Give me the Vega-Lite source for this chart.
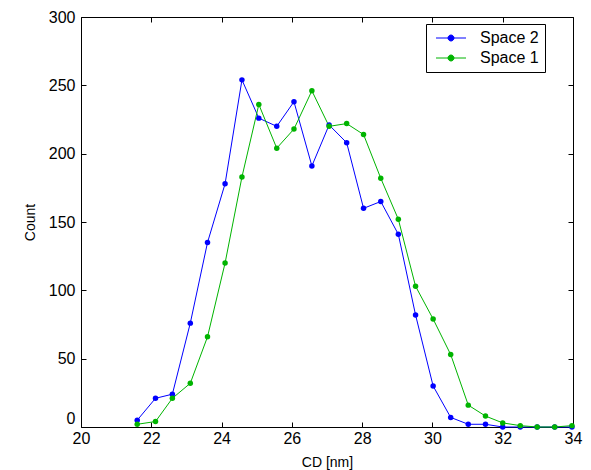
{
  "$schema": "https://vega.github.io/schema/vega-lite/v6.json",
  "width": 492,
  "height": 410,
  "autosize": "none",
  "padding": {"left": 81, "top": 17, "right": 18, "bottom": 43},
  "background": "white",
  "config": {
    "font": "Liberation Sans",
    "view": {"stroke": "#000000", "strokeWidth": 1},
    "axis": {
      "domain": false,
      "grid": false,
      "tickColor": "#000000",
      "tickSize": -5,
      "labelFlush": false,
      "labelColor": "#000000",
      "labelFontSize": 16,
      "labelFont": "Liberation Sans",
      "titleFont": "Liberation Sans",
      "titleFontSize": 14,
      "titleFontWeight": "normal",
      "titleColor": "#000000"
    }
  },
  "data": {
    "values": [
      {"cd": 21.6, "count": 5, "series": "Space 2"},
      {"cd": 22.12, "count": 21, "series": "Space 2"},
      {"cd": 22.6, "count": 24, "series": "Space 2"},
      {"cd": 23.11, "count": 76, "series": "Space 2"},
      {"cd": 23.6, "count": 135, "series": "Space 2"},
      {"cd": 24.1, "count": 178, "series": "Space 2"},
      {"cd": 24.58, "count": 254, "series": "Space 2"},
      {"cd": 25.06, "count": 226, "series": "Space 2"},
      {"cd": 25.57, "count": 220, "series": "Space 2"},
      {"cd": 26.06, "count": 238, "series": "Space 2"},
      {"cd": 26.57, "count": 191, "series": "Space 2"},
      {"cd": 27.06, "count": 221, "series": "Space 2"},
      {"cd": 27.56, "count": 208, "series": "Space 2"},
      {"cd": 28.04, "count": 160, "series": "Space 2"},
      {"cd": 28.53, "count": 165, "series": "Space 2"},
      {"cd": 29.03, "count": 141, "series": "Space 2"},
      {"cd": 29.52, "count": 82, "series": "Space 2"},
      {"cd": 30.02, "count": 30, "series": "Space 2"},
      {"cd": 30.52, "count": 7, "series": "Space 2"},
      {"cd": 31.02, "count": 2, "series": "Space 2"},
      {"cd": 31.51, "count": 2, "series": "Space 2"},
      {"cd": 32.0, "count": 0, "series": "Space 2"},
      {"cd": 32.5, "count": 0, "series": "Space 2"},
      {"cd": 32.98, "count": 0, "series": "Space 2"},
      {"cd": 33.48, "count": 0, "series": "Space 2"},
      {"cd": 33.97, "count": 0, "series": "Space 2"},
      {"cd": 21.6, "count": 2, "series": "Space 1"},
      {"cd": 22.12, "count": 4, "series": "Space 1"},
      {"cd": 22.6, "count": 21, "series": "Space 1"},
      {"cd": 23.11, "count": 32, "series": "Space 1"},
      {"cd": 23.6, "count": 66, "series": "Space 1"},
      {"cd": 24.1, "count": 120, "series": "Space 1"},
      {"cd": 24.58, "count": 183, "series": "Space 1"},
      {"cd": 25.06, "count": 236, "series": "Space 1"},
      {"cd": 25.57, "count": 204, "series": "Space 1"},
      {"cd": 26.06, "count": 218, "series": "Space 1"},
      {"cd": 26.57, "count": 246, "series": "Space 1"},
      {"cd": 27.06, "count": 220, "series": "Space 1"},
      {"cd": 27.56, "count": 222, "series": "Space 1"},
      {"cd": 28.04, "count": 214, "series": "Space 1"},
      {"cd": 28.53, "count": 182, "series": "Space 1"},
      {"cd": 29.03, "count": 152, "series": "Space 1"},
      {"cd": 29.52, "count": 103, "series": "Space 1"},
      {"cd": 30.02, "count": 79, "series": "Space 1"},
      {"cd": 30.52, "count": 53, "series": "Space 1"},
      {"cd": 31.02, "count": 16, "series": "Space 1"},
      {"cd": 31.51, "count": 8, "series": "Space 1"},
      {"cd": 32.0, "count": 3, "series": "Space 1"},
      {"cd": 32.5, "count": 1, "series": "Space 1"},
      {"cd": 32.98, "count": 0, "series": "Space 1"},
      {"cd": 33.48, "count": 0, "series": "Space 1"},
      {"cd": 33.97, "count": 1, "series": "Space 1"}
    ]
  },
  "layer": [
    {
      "mark": {"type": "point", "opacity": 0},
      "encoding": {
        "x": {"field": "cd", "type": "quantitative", "scale": {"domain": [20, 34], "nice": false, "zero": false},
              "axis": {"orient": "top", "labels": false, "title": null, "labelFlush": false, "values": [20, 22, 24, 26, 28, 30, 32, 34]}},
        "y": {"field": "count", "type": "quantitative", "scale": {"domain": [0, 300], "nice": false},
              "axis": {"orient": "right", "labels": false, "title": null, "labelFlush": false, "values": [0, 50, 100, 150, 200, 250, 300]}}
      }
    },
    {
      "mark": {"type": "line", "strokeWidth": 1, "point": {"filled": true, "size": 30}},
      "encoding": {
        "x": {"field": "cd", "type": "quantitative", "scale": {"domain": [20, 34], "nice": false, "zero": false},
              "axis": {"orient": "bottom", "title": "CD  [nm]", "labelFlush": false, "values": [20, 22, 24, 26, 28, 30, 32, 34], "labelPadding": 8, "titlePadding": 9}},
        "y": {"field": "count", "type": "quantitative", "scale": {"domain": [0, 300], "nice": false},
              "axis": {"orient": "left", "title": "Count", "labelFlush": false, "values": [0, 50, 100, 150, 200, 250, 300], "labelPadding": 11, "titlePadding": 11,
                       "labelOffset": {"condition": {"test": "datum.value == 0", "value": -9}, "value": 0}}},
        "color": {
          "field": "series", "type": "nominal",
          "scale": {"domain": ["Space 2", "Space 1"], "range": ["#0000ff", "#00b400"]},
          "legend": {
            "orient": "none", "legendX": 345, "legendY": 7,
            "title": null,
            "strokeColor": "#000000", "fillColor": "#ffffff",
            "padding": 6,
            "symbolType": "M-3,0H3M-0.6,0A0.6,0.6,0,1,1,0.6,0A0.6,0.6,0,1,1,-0.6,0",
            "symbolSize": 100,
            "symbolStrokeWidth": 1,
            "symbolOffset": 11,
            "labelFontSize": 16,
            "labelFont": "Liberation Sans",
            "labelColor": "#000000",
            "labelOffset": 21,
            "labelExpr": "datum.label + '\u00a0\u00a0\u00a0'",
            "rowPadding": 4
          }
        }
      }
    }
  ]
}
